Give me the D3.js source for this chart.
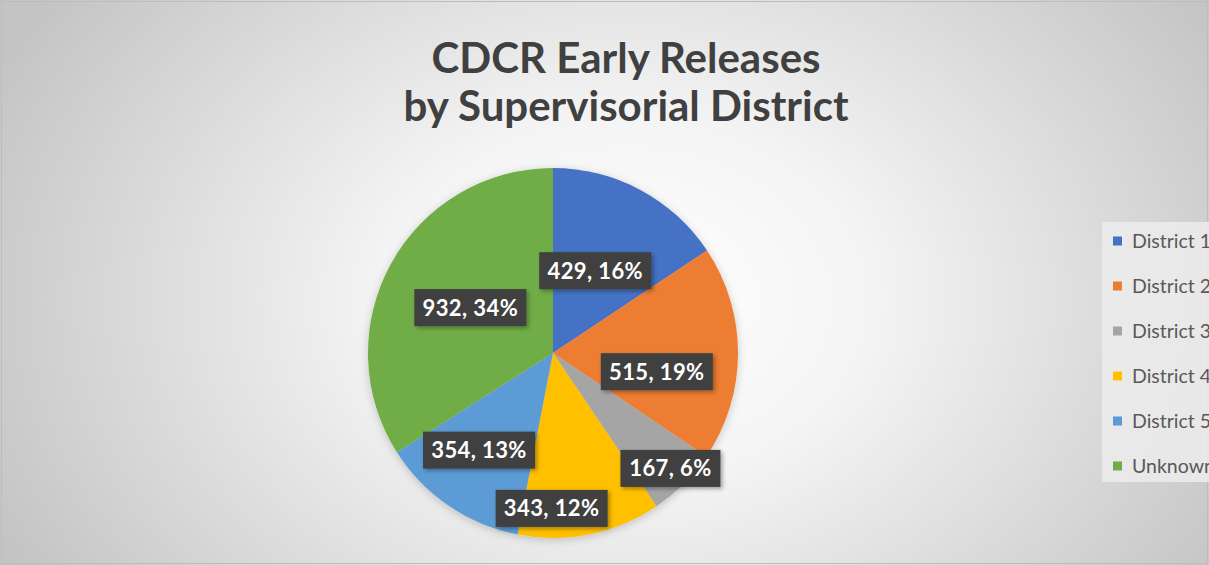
<!DOCTYPE html>
<html><head><meta charset="utf-8">
<script src="https://cdn.jsdelivr.net/npm/d3@7/dist/d3.min.js"></script>
<style>html,body{margin:0;padding:0;overflow:hidden;background:#fff}</style>
</head><body>
<svg id="chart" width="1209" height="565"></svg>
<script>
const categories = ["District 1","District 2","District 3","District 4","District 5","Unknown"];
const values = [429, 515, 167, 343, 354, 932];
const percentLabels = ["16%","19%","6%","12%","13%","34%"];
const colors = ["#4472C4","#ED7D31","#A5A5A5","#FFC000","#5B9BD5","#70AD47"];
const titleLines = ["CDCR Early Releases","by Supervisorial District"];

// layout config (not data)
const W = 1209, H = 565;
const cx = 553, cy = 353, R = 185;
const labelRadiusFrac = [0.50, 0.57, 0.89, 0.84, 0.66, 0.51];
const labelAngleShift = [-1, 10, -0.5, 12, 3, 0]; // degrees

const svg = d3.select("#chart");
const defs = svg.append("defs");
const rg = defs.append("radialGradient").attr("id","bg")
  .attr("gradientUnits","userSpaceOnUse").attr("cx",626).attr("cy",300).attr("r",700)
  .attr("gradientTransform","translate(626,300) scale(1,0.75) translate(-626,-300)");
rg.append("stop").attr("offset","0").attr("stop-color","#ffffff");
rg.append("stop").attr("offset","0.35").attr("stop-color","#f4f4f4");
rg.append("stop").attr("offset","1").attr("stop-color","#c4c4c4");

const sh = defs.append("filter").attr("id","shadow").attr("x","-20%").attr("y","-20%").attr("width","150%").attr("height","150%");
sh.append("feDropShadow").attr("dx",2).attr("dy",2).attr("stdDeviation",2).attr("flood-color","#000").attr("flood-opacity",0.35);
const sh2 = defs.append("filter").attr("id","pieshadow").attr("x","-20%").attr("y","-20%").attr("width","150%").attr("height","150%");
sh2.append("feDropShadow").attr("dx",0).attr("dy",2).attr("stdDeviation",4).attr("flood-color","#000").attr("flood-opacity",0.2);

svg.append("rect").attr("width",W).attr("height",H).attr("fill","url(#bg)");
svg.append("rect").attr("x",1.5).attr("y",1.5).attr("width",W-3).attr("height",H-3)
  .attr("fill","none").attr("stroke","#bdbdbd").attr("stroke-width",1);

// title
svg.append("g").selectAll("text").data(titleLines).join("text")
  .attr("x",626).attr("y",(d,i)=>73+i*48)
  .attr("text-anchor","middle")
  .attr("font-family","Lato, 'Open Sans', sans-serif")
  .attr("font-weight","bold").attr("font-size",42)
  .attr("fill","#404040").text(d=>d);

// pie
const pie = d3.pie().sort(null).value(d=>d.v);
const data = categories.map((c,i)=>({c, v:values[i], p:percentLabels[i], col:colors[i], i}));
const arcs = pie(data);
const arc = d3.arc().innerRadius(0).outerRadius(R);
const g = svg.append("g").attr("transform",`translate(${cx},${cy})`);
g.append("g").attr("filter","url(#pieshadow)").selectAll("path").data(arcs).join("path")
  .attr("d",arc).attr("fill",d=>d.data.col);

// labels
const lg = g.append("g");
arcs.forEach((a,i)=>{
  const mid = (a.startAngle+a.endAngle)/2 + labelAngleShift[i]*Math.PI/180;
  const r = R*labelRadiusFrac[i];
  const x = Math.sin(mid)*r, y = -Math.cos(mid)*r;
  const t = `${a.data.v}, ${a.data.p}`;
  const bw = t.length>7 ? 112 : 100, bh = 37;
  const gg = lg.append("g").attr("transform",`translate(${x},${y})`);
  gg.append("rect").attr("x",-bw/2).attr("y",-bh/2).attr("width",bw).attr("height",bh)
    .attr("fill","#404040").attr("filter","url(#shadow)");
  gg.append("text").attr("text-anchor","middle").attr("dy","0.36em")
    .attr("font-family","Lato, 'Open Sans', sans-serif").attr("font-weight","bold")
    .attr("font-size",22).attr("letter-spacing",0.4).attr("fill","#ffffff").text(t);
});

// legend
const leg = svg.append("g");
leg.append("rect").attr("x",1102).attr("y",222).attr("width",120).attr("height",260)
  .attr("fill","#ececec").attr("fill-opacity",0.85);
const items = leg.selectAll("g.item").data(data).join("g").attr("class","item")
  .attr("transform",(d,i)=>`translate(1113,${241+i*45})`);
items.append("rect").attr("x",0).attr("y",-4.5).attr("width",9).attr("height",9).attr("fill",d=>d.col);
items.append("text").attr("x",19).attr("dy","0.36em")
  .attr("font-family","Lato, 'Open Sans', sans-serif").attr("font-size",19.5)
  .attr("fill","#595959").text(d=>d.c);
</script>
</body></html>
